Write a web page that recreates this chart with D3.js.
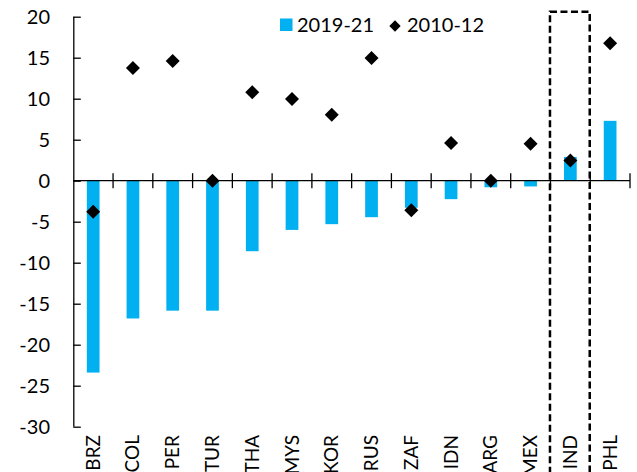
<!DOCTYPE html>
<html><head><meta charset="utf-8">
<script src="https://cdn.jsdelivr.net/npm/d3@7"></script>
<style>body{margin:0;background:#fff}svg{display:block}text{font-family:Lato,"Open Sans",sans-serif;fill:#000}</style>
</head><body><svg id="c" width="637" height="472"></svg>
<script>
const categories = ["BRZ","COL","PER","TUR","THA","MYS","KOR","RUS","ZAF","IDN","ARG","MEX","IND","PHL"];
const recent = [-23.4,-16.8,-15.85,-15.85,-8.6,-6.0,-5.3,-4.45,-3.3,-2.25,-0.8,-0.7,2.9,7.3];
const earlier = [-3.8,13.75,14.6,0.0,10.8,9.95,8.05,14.95,-3.6,4.6,0.0,4.5,2.45,16.75];
const seriesNames = ["2019-21","2010-12"];
const yTicks = [-30,-25,-20,-15,-10,-5,0,5,10,15,20];
const highlighted = ["IND"];

const svg = d3.select("#c");
const x = d3.scaleBand().domain(categories).range([73.3, 630]);
const y = d3.scaleLinear().domain([-30, 20]).range([426.7, 16.7]);
const bw = x.bandwidth() * 0.32;

// bars
svg.append("g").selectAll("rect").data(categories).join("rect")
  .attr("x", c => x(c) + (x.bandwidth() - bw) / 2)
  .attr("width", bw)
  .attr("y", (c, i) => y(Math.max(0, recent[i])))
  .attr("height", (c, i) => Math.abs(y(recent[i]) - y(0)))
  .attr("fill", "#00B0F0");

// y axis
const yAxis = d3.axisRight(y).tickValues(yTicks).tickSize(7.5).tickFormat("");
const gy = svg.append("g").attr("transform", "translate(73.3,0)").call(yAxis);
gy.select(".domain").attr("d", `M0.5,${y(20)}V${y(-30)}`).attr("stroke", "#000").attr("stroke-width", 1.3);
gy.selectAll(".tick line").attr("stroke", "#000").attr("stroke-width", 1.3);
svg.append("g").selectAll("text").data(yTicks).join("text")
  .attr("x", 50).attr("y", d => y(d)).attr("dy", "0.36em")
  .attr("text-anchor", "end").style("font-size", "20px")
  .text(d => d);

// x axis at zero with boundary ticks
const xb = categories.map(c => x(c)).concat([x(categories[categories.length - 1]) + x.bandwidth()]);
const gx = svg.append("g");
gx.append("line").attr("x1", 73.3).attr("x2", 630).attr("y1", y(0)).attr("y2", y(0))
  .attr("stroke", "#000").attr("stroke-width", 1.3);
gx.selectAll("line.t").data(xb.slice(1)).join("line").attr("class", "t")
  .attr("x1", d => d).attr("x2", d => d)
  .attr("y1", y(0) - 7.5).attr("y2", y(0) + 7.5)
  .attr("stroke", "#000").attr("stroke-width", 1.3);

// x labels
svg.append("g").selectAll("text").data(categories).join("text")
  .attr("transform", c => `translate(${x(c) + x.bandwidth() / 2 + 6.5},435) rotate(-90)`)
  .attr("text-anchor", "end").style("font-size", "19px")
  .text(c => c);

// diamonds
const diamond = d3.symbol().type(d3.symbolSquare).size(98);
svg.append("g").selectAll("path").data(categories).join("path")
  .attr("d", diamond)
  .attr("transform", (c, i) => `translate(${x(c) + x.bandwidth() / 2},${y(earlier[i])}) rotate(45)`)
  .attr("fill", "#000");

// highlight box
svg.append("g").selectAll("rect").data(highlighted).join("rect")
  .attr("x", c => x(c) - 0.5).attr("width", x.bandwidth())
  .attr("y", 11.7).attr("height", 480)
  .attr("fill", "none").attr("stroke", "#000").attr("stroke-width", 2.5)
  .attr("stroke-dasharray", "7,3.5");

// legend
const lg = svg.append("g");
lg.append("rect").attr("x", 280).attr("y", 18.5).attr("width", 12.5).attr("height", 12.5).attr("fill", "#00B0F0");
lg.append("text").attr("x", 297).attr("y", 32).style("font-size", "20px").text(seriesNames[0]);
lg.append("path").attr("d", d3.symbol().type(d3.symbolSquare).size(64)).attr("transform", "translate(395,26) rotate(45)").attr("fill", "#000");
lg.append("text").attr("x", 407).attr("y", 32).style("font-size", "20px").text(seriesNames[1]);
</script></body></html>
